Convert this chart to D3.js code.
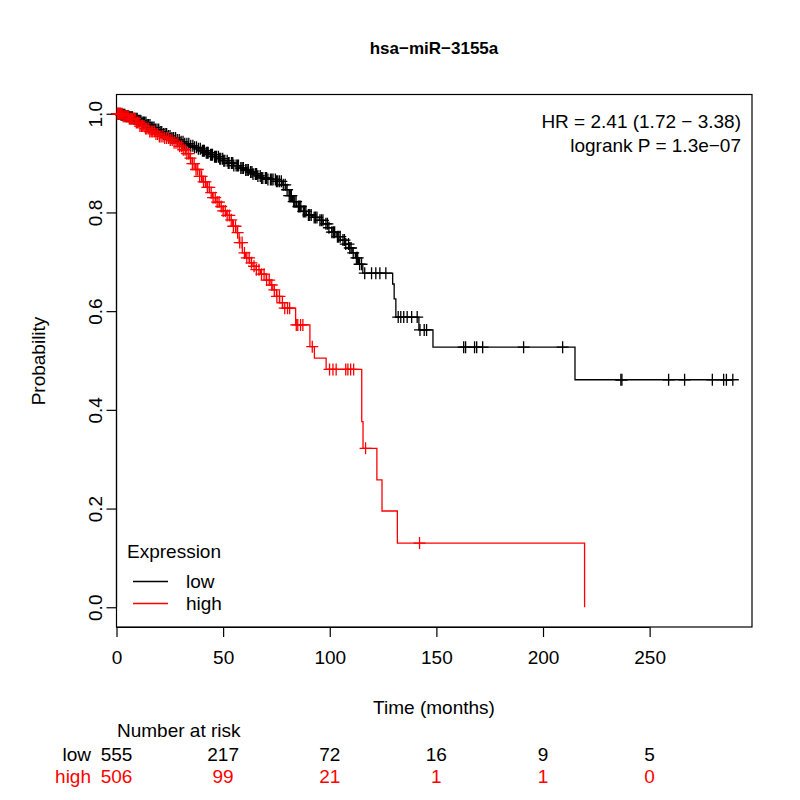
<!DOCTYPE html>
<html><head><meta charset="utf-8">
<script src="https://cdn.jsdelivr.net/npm/d3@7"></script>
<style>body{margin:0;background:#fff}svg{display:block}text{font-family:"Liberation Sans",Arial,sans-serif}</style>
</head><body>
<svg id="c" width="800" height="800"></svg>
<script>
const title = "hsa\u2212miR\u22123155a";
const hrLines = ["HR = 2.41 (1.72 \u2212 3.38)", "logrank P = 1.3e\u221207"];
const groups = ["low", "high"];
const colors = ["#000000", "#FF0000"];
const xTicks = [0, 50, 100, 150, 200, 250];
const yTicks = [0, 0.2, 0.4, 0.6, 0.8, 1.0];
const riskLow = [555, 217, 72, 16, 9, 5];
const riskHigh = [506, 99, 21, 1, 1, 0];

// low group: event times and survival after each event
const lowTimes = [0,2,4,6,8,10,12,14,16,18,20,22,24,26,28,30,32,34,36,38,40,42,44,46,48,50,52,55,58,60,62,64,66,68,71,75,78,79.5,81,82.5,84.5,86.5,89,92,95,97,99,101,103,105,107,109,110.5,112,113.5,115.5,129.5,130.2,131,141.8,148.4,215,289];
const lowSurv  = [1,0.998,0.995,0.993,0.99,0.986,0.982,0.977,0.972,0.968,0.963,0.959,0.955,0.951,0.947,0.943,0.939,0.935,0.932,0.929,0.925,0.921,0.917,0.913,0.909,0.905,0.9,0.895,0.89,0.886,0.882,0.878,0.874,0.87,0.867,0.863,0.856,0.846,0.834,0.822,0.812,0.802,0.795,0.79,0.784,0.777,0.769,0.76,0.751,0.744,0.736,0.728,0.718,0.708,0.695,0.677,0.655,0.625,0.588,0.562,0.527,0.461,0.461];
const lowCensor = [0.3,0.8,1.2,1.7,2.1,2.6,3.0,3.4,3.9,4.3,4.8,5.2,5.7,6.1,6.6,7.0,7.5,8.1,8.6,9.2,9.7,10.3,10.9,11.4,12.0,12.6,13.1,13.8,14.4,15.0,15.7,16.3,17.0,17.6,18.3,19.0,19.8,20.5,21.2,22.0,22.8,23.5,24.3,25.1,26.0,26.8,27.7,28.5,29.4,30.3,31.2,32.0,33.0,33.9,34.8,35.8,36.6,37.5,38.4,39.3,40.3,40.8,41.2,42.1,42.6,43.0,44.1,44.6,45.0,46.0,46.5,46.9,47.8,48.4,48.9,49.8,50.3,50.8,51.9,52.4,52.8,53.9,54.5,55.0,56.1,56.7,57.2,58.3,58.9,59.5,60.6,61.2,61.8,62.9,63.5,64.0,65.1,65.7,66.3,67.4,68.0,68.6,69.8,70.4,71.0,72.2,72.8,73.4,74.5,75.0,75.6,76.4,77.3,78.2,79.1,80.0,81.0,81.5,82.0,83.1,83.6,84.2,85.3,85.8,86.4,87.6,88.2,88.8,90.0,90.6,91.3,92.7,93.3,94.0,95.4,96.1,96.8,98.2,98.9,99.6,101.0,101.7,102.3,103.6,104.2,104.9,106.2,106.9,107.5,108.8,109.4,110.0,111.0,112.5,113.1,114.0,114.9,116.4,119.6,121.6,123.5,126.3,132.1,133.3,134.7,136.3,138.4,141.0,142.3,144.3,145.4,162.8,163.7,167.9,168.9,171.7,190.9,209.2,236.5,237.0,258.9,266.4,279.4,284.7,286.0,289.0];

// high group
const highTimes = [0,3,6,9,11,13,15.5,18,20,22.5,25,27,29.5,31,32.5,34,35.5,37,39,40.5,42,43.6,45,46.5,48.3,50,51.5,53,54.5,56,57.5,59,60.5,62.4,64,65.5,67.5,70.2,72,73.3,75,76.5,77.9,84,90.7,92.8,98.3,115.0,115.6,122.1,124.5,131.7,219.5];
const highSurv  = [1,0.995,0.99,0.982,0.975,0.97,0.964,0.959,0.954,0.951,0.947,0.941,0.934,0.927,0.919,0.91,0.899,0.887,0.873,0.862,0.851,0.84,0.83,0.821,0.812,0.803,0.794,0.785,0.772,0.759,0.739,0.718,0.708,0.698,0.691,0.684,0.675,0.663,0.653,0.643,0.63,0.617,0.606,0.572,0.528,0.505,0.482,0.376,0.322,0.258,0.195,0.13,0];
const highCensor = [0.4,0.9,1.3,1.8,2.2,2.7,3.1,3.6,4.0,4.5,5.0,5.5,6.0,6.6,7.1,7.6,8.2,8.7,9.3,9.9,10.5,11.0,11.7,12.3,12.9,13.6,14.2,14.9,15.6,16.3,17.0,17.8,18.5,19.3,20.1,20.9,21.8,22.6,23.5,24.4,25.2,26.1,27.0,27.9,28.8,29.6,30.5,31.3,32.2,33.0,33.9,34.7,35.6,36.4,37.3,38.1,39.0,39.9,40.8,41.7,42.6,43.5,44.4,45.3,46.3,47.2,48.1,49.1,50.0,51.0,51.9,52.9,53.8,54.8,55.8,56.8,57.8,58.9,60.0,61.1,62.2,63.3,64.5,65.6,66.8,68.0,69.2,70.4,71.6,72.8,74.0,75.2,76.4,77.8,78.9,80.2,81.2,84.3,85.0,86.3,87.4,91.8,99.9,101.5,103.0,107.5,108.5,109.8,111.2,116.8,142.1];

const svg = d3.select("#c");
const FS = 19;
const x = d3.scaleLinear().domain([0, 298]).range([116.5, 752]);
const y = d3.scaleLinear().domain([-0.04, 1.04]).range([627, 94]);

svg.append("rect").attr("x", 116.5).attr("y", 94.5).attr("width", 752 - 116.5).attr("height", 627 - 94.5)
  .attr("fill", "none").attr("stroke", "#000").attr("stroke-width", 1.2);

// axes
const xAxis = d3.axisBottom(x).tickValues(xTicks).tickSize(10).tickPadding(14).tickFormat(d3.format("d"));
const gx = svg.append("g").attr("transform", "translate(0,627)").call(xAxis);
gx.select(".domain").attr("d", `M${x(0)},0.5H${x(250)}`).attr("stroke-width", 1.2);
gx.selectAll(".tick line").attr("stroke-width", 1.2);
gx.selectAll("text").attr("font-size", FS).attr("font-family", "Liberation Sans, Arial, sans-serif").attr("fill", "#000");

const yAxis = d3.axisLeft(y).tickValues(yTicks).tickSize(10).tickFormat(d3.format(".1f"));
const gy = svg.append("g").attr("transform", "translate(116.5,0)").call(yAxis);
gy.select(".domain").attr("d", `M0,${y(0)}V${y(1)}`).attr("stroke-width", 1.2);
gy.selectAll(".tick line").attr("stroke-width", 1.2);
gy.selectAll("text").attr("font-size", FS).attr("font-family", "Liberation Sans, Arial, sans-serif").attr("fill", "#000")
  .attr("transform", "rotate(-90)").attr("x", 0).attr("y", -15).attr("dy", 0).attr("text-anchor", "middle");

// curves
function survAt(times, surv, t) {
  let s = surv[0];
  for (let i = 0; i < times.length; i++) { if (times[i] <= t) s = surv[i]; else break; }
  return s;
}
const line = d3.line().x(d => x(d[0])).y(d => y(d[1])).curve(d3.curveStepAfter);
const sets = [[lowTimes, lowSurv, lowCensor], [highTimes, highSurv, highCensor]];
sets.forEach(([ts, ss, cs], gi) => {
  const pts = ts.map((t, i) => [t, ss[i]]);
  const g = svg.append("g");
  g.append("path").attr("d", line(pts)).attr("fill", "none").attr("stroke", colors[gi]).attr("stroke-width", 1.3);
  g.selectAll("path.c").data(cs).enter().append("path").attr("class", "c")
    .attr("d", c => { const px = x(c), py = y(survAt(ts, ss, c)); return `M${px - 6},${py}H${px + 6}M${px},${py - 6}V${py + 6}`; })
    .attr("stroke", colors[gi]).attr("stroke-width", 1.3).attr("fill", "none");
});

// titles
svg.append("text").attr("x", 434).attr("y", 54).attr("text-anchor", "middle").attr("font-weight", "bold").attr("font-size", 17).text(title);
svg.append("text").attr("x", 434).attr("y", 714).attr("text-anchor", "middle").attr("font-size", FS).text("Time (months)");
svg.append("text").attr("transform", "translate(45,361) rotate(-90)").attr("text-anchor", "middle").attr("font-size", FS).text("Probability");
hrLines.forEach((t, i) => svg.append("text").attr("x", 741).attr("y", 128 + i * 24).attr("text-anchor", "end").attr("font-size", FS).text(t));

// legend
svg.append("text").attr("x", 127).attr("y", 558).attr("font-size", FS).text("Expression");
groups.forEach((g, i) => {
  const ly = 581.5 + i * 22;
  svg.append("line").attr("x1", 133).attr("x2", 168).attr("y1", ly).attr("y2", ly).attr("stroke", colors[i]).attr("stroke-width", 1.3);
  svg.append("text").attr("x", 186).attr("y", ly + 6.5).attr("font-size", FS).text(g);
});

// number at risk
svg.append("text").attr("x", 117).attr("y", 737).attr("font-size", FS).text("Number at risk");
[riskLow, riskHigh].forEach((arr, i) => {
  const ry = 761 + i * 21.5;
  svg.append("text").attr("x", 91).attr("y", ry).attr("text-anchor", "end").attr("font-size", FS).attr("fill", colors[i]).text(groups[i]);
  svg.selectAll(null).data(arr).enter().append("text")
    .attr("x", (d, j) => x(xTicks[j])).attr("y", ry).attr("text-anchor", "middle").attr("font-size", FS).attr("fill", colors[i]).text(d => d);
});
</script>
</body></html>
